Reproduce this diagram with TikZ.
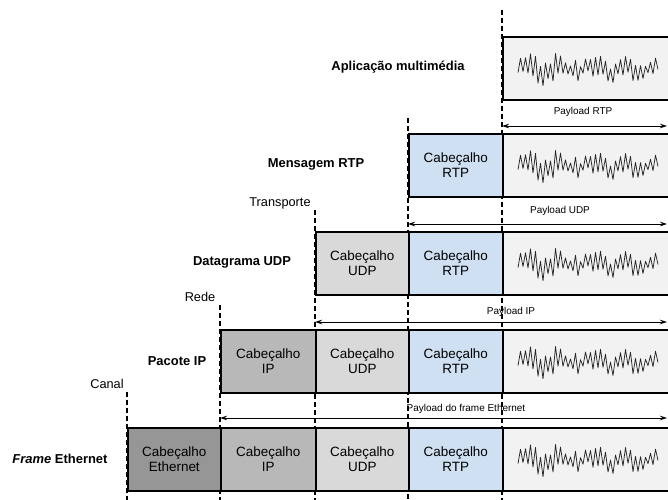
\documentclass[tikz,border=0pt]{standalone}
\usepackage{fontspec}
\setmainfont{Liberation Sans}
\usepackage{xcolor}
\usepackage{tikz}
\usetikzlibrary{arrows.meta}
\definecolor{figEth}{RGB}{150,150,150}
\definecolor{figIP}{RGB}{184,184,184}
\definecolor{figUDP}{RGB}{217,217,217}
\definecolor{figRTP}{RGB}{207,224,242}
\definecolor{figPL}{RGB}{242,242,242}
\tikzset{
  hdr/.style={draw, line width=1.6bp, anchor=north west, minimum height=63bp,
    inner sep=0pt, align=center, font=\fontsize{13.5}{15}\selectfont},
  plbox/.style={hdr, fill=figPL, minimum width=180bp},
  layer/.style={font=\bfseries\fontsize{13}{15}\selectfont},
  note/.style={font=\fontsize{10}{12}\selectfont},
  cutname/.style={font=\fontsize{12.8}{14}\selectfont},
  bound/.style={dash pattern=on 5bp off 3bp, line width=1.1bp},
  span/.style={{Stealth[length=7bp,width=4.5bp]}-{Stealth[length=7bp,width=4.5bp]}, line width=0.9bp}}
% noisy audio trace inside a payload box
\newcommand{\audiowave}[1]{%
  \pgfmathsetseed{7}%
  \draw[line width=0.75bp, black!85, line join=round, shift={(#1.west)}]
    plot[domain=16:156, samples=57]
      (\x, {(3+11*rnd)*cos(((\x-16)/2.5)*180) + 4*sin(\x*11) + 1.5*rand});}

\begin{document}
\begin{tikzpicture}[x=1bp, y=-1bp]
\useasboundingbox (0,0) rectangle (668,500);
% layer boundaries
\coordinate (cut-app) at (502,10);   \coordinate (cut-app-end) at (502,500);
\coordinate (cut-rtp) at (408,118);  \coordinate (cut-rtp-end) at (408,500);
\coordinate (cut-udp) at (315,210);  \coordinate (cut-udp-end) at (315,500);
\coordinate (cut-ip) at (220,305);   \coordinate (cut-ip-end) at (220,500);
\coordinate (cut-eth) at (127,392);  \coordinate (cut-eth-end) at (127,500);
\draw[bound] (cut-app) -- (cut-app-end);
\draw[bound] (cut-rtp) -- (cut-rtp-end);
\draw[bound] (cut-udp) -- (cut-udp-end);
\draw[bound] (cut-ip) -- (cut-ip-end);
\draw[bound] (cut-eth) -- (cut-eth-end);
\node[cutname] (lbl-transp) at (280,203) {Transporte};
\node[cutname] (lbl-rede) at (200,297) {Rede};
\node[cutname] (lbl-canal) at (107,384) {Canal};

% application
\node[layer] (lbl-app) at (398,67) {Aplicação multimédia};
\node[plbox] (app-pl) at (502,36) {};
\audiowave{app-pl}
\node[note] (txt-rtp) at (583,112) {Payload RTP};
\coordinate (pay-rtp-l) at (502,126); \coordinate (pay-rtp-r) at (667,126);
\draw[span] (pay-rtp-l) -- (pay-rtp-r);

% RTP message
\node[layer] (lbl-rtp) at (316,164) {Mensagem RTP};
\node[hdr, fill=figRTP, minimum width=94bp] (rtp-rtp) at (408,133) {Cabeçalho\\RTP};
\node[plbox] (rtp-pl) at (502,133) {};
\audiowave{rtp-pl}
\node[note] (txt-udp) at (560,211) {Payload UDP};
\coordinate (pay-udp-l) at (408,224); \coordinate (pay-udp-r) at (667,224);
\draw[span] (pay-udp-l) -- (pay-udp-r);

% UDP datagram
\node[layer] (lbl-udp) at (242,262) {Datagrama UDP};
\node[hdr, fill=figUDP, minimum width=93bp] (udp-udp) at (315,231) {Cabeçalho\\UDP};
\node[hdr, fill=figRTP, minimum width=94bp] (udp-rtp) at (408,231) {Cabeçalho\\RTP};
\node[plbox] (udp-pl) at (502,231) {};
\audiowave{udp-pl}
\node[note] (txt-ip) at (511,312) {Payload IP};
\coordinate (pay-ip-l) at (315,322); \coordinate (pay-ip-r) at (667,322);
\draw[span] (pay-ip-l) -- (pay-ip-r);

% IP packet
\node[layer] (lbl-ip) at (177,361) {Pacote IP};
\node[hdr, fill=figIP, minimum width=95bp] (ip-ip) at (220,329) {Cabeçalho\\IP};
\node[hdr, fill=figUDP, minimum width=93bp] (ip-udp) at (315,329) {Cabeçalho\\UDP};
\node[hdr, fill=figRTP, minimum width=94bp] (ip-rtp) at (408,329) {Cabeçalho\\RTP};
\node[plbox] (ip-pl) at (502,329) {};
\audiowave{ip-pl}
\node[note] (txt-eth) at (466,409) {Payload do frame Ethernet};
\coordinate (pay-eth-l) at (220,418); \coordinate (pay-eth-r) at (667,418);
\draw[span] (pay-eth-l) -- (pay-eth-r);

% Ethernet frame
\node[layer] (lbl-eth) at (60,459) {\textit{Frame} Ethernet};
\node[hdr, fill=figEth, minimum width=93bp] (eth-eth) at (127,427) {Cabeçalho\\Ethernet};
\node[hdr, fill=figIP, minimum width=95bp] (eth-ip) at (220,427) {Cabeçalho\\IP};
\node[hdr, fill=figUDP, minimum width=93bp] (eth-udp) at (315,427) {Cabeçalho\\UDP};
\node[hdr, fill=figRTP, minimum width=94bp] (eth-rtp) at (408,427) {Cabeçalho\\RTP};
\node[plbox] (eth-pl) at (502,427) {};
\audiowave{eth-pl}
\end{tikzpicture}
\end{document}
